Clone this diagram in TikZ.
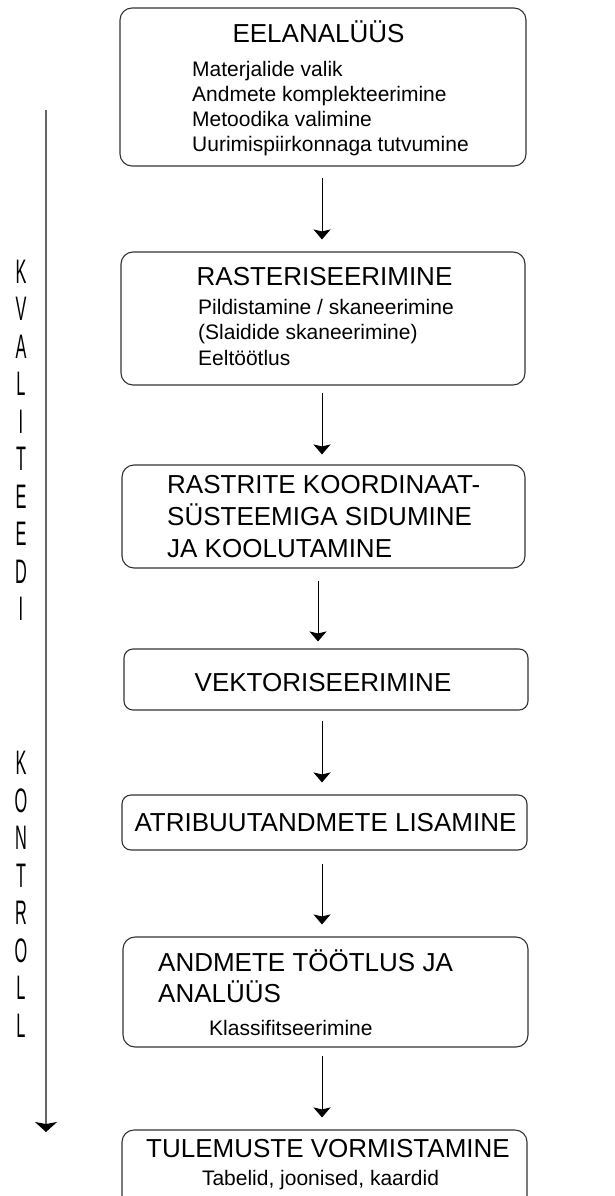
\documentclass[tikz,border=0pt]{standalone}
\usepackage{fontspec}
\setmainfont{Liberation Sans}
\usepackage{graphicx}
\usetikzlibrary{arrows.meta}
\begin{document}
\begin{tikzpicture}[x=1pt,y=-1pt,
  box/.style={draw=black!80, line width=1.1pt, rounded corners=12pt, inner sep=0pt},
  smallbox/.style={box, rounded corners=9pt},
  head/.style={inner sep=0pt, font=\fontsize{26}{32}\selectfont},
  sub/.style={inner sep=0pt, font=\fontsize{21}{25}\selectfont},
  arr/.style={line width=0.9pt, -{Stealth[length=10pt,width=17pt,inset=2pt]}},
  side/.style={inner sep=0pt, anchor=base},
]
\clip (0,0) rectangle (615,1196);
\fill[white] (0,0) rectangle (615,1196);

% boxes
\node[box, minimum width=406pt, minimum height=158pt] (b1) at (323,87) {};
\node[box, minimum width=404pt, minimum height=133pt] (b2) at (323,318.5) {};
\node[box, minimum width=403pt, minimum height=103pt] (b3) at (323.5,516.5) {};
\node[smallbox, minimum width=404pt, minimum height=61pt] (b4) at (326,679.5) {};
\node[smallbox, minimum width=405pt, minimum height=55pt] (b5) at (324.5,822.5) {};
\node[box, minimum width=405pt, minimum height=110pt] (b6) at (325.5,992) {};
\node[box, minimum width=405pt, minimum height=80pt] (b7) at (324.5,1170) {};

% texts
\node[head, anchor=base] (h1) at (318.5,43) {EELANALÜÜS};
\node[sub, anchor=base west] (s1) at (192,77) {\begin{tabular}[t]{@{}l@{}}Materjalide valik\\Andmete komplekteerimine\\Metoodika valimine\\Uurimispiirkonnaga tutvumine\end{tabular}};

\node[head, anchor=base] (h2) at (324.5,285) {RASTERISEERIMINE};
\node[sub, font=\fontsize{21}{25.5}\selectfont, anchor=base west] (s2) at (198,314) {\begin{tabular}[t]{@{}l@{}}Pildistamine / skaneerimine\\(Slaidide skaneerimine)\\Eeltöötlus\end{tabular}};

\node[head, anchor=base west] (h3) at (167,493) {\begin{tabular}[t]{@{}l@{}}RASTRITE KOORDINAAT-\\SÜSTEEMIGA SIDUMINE\\JA KOOLUTAMINE\end{tabular}};

\node[head, anchor=base] (h4) at (323,691) {VEKTORISEERIMINE};

\node[head, anchor=base] (h5) at (325.5,831) {ATRIBUUTANDMETE LISAMINE};

\node[head, font=\fontsize{26}{31}\selectfont, anchor=base west] (h6) at (158,971) {\begin{tabular}[t]{@{}l@{}}ANDMETE TÖÖTLUS JA\\ANALÜÜS\end{tabular}};
\node[sub, anchor=base west] (s6) at (209,1035) {Klassifitseerimine};

\node[head, anchor=base] (h7) at (328,1157) {TULEMUSTE VORMISTAMINE};
\node[sub, anchor=base] (s7) at (320.5,1185) {Tabelid, joonised, kaardid};

% connectors
\coordinate (ax) at (322,0);
\coordinate (ax3) at (318,0);
\draw[arr, shorten <=11pt, shorten >=12pt] (b1.south -| ax) -- (b2.north -| ax);
\draw[arr, shorten <=7pt, shorten >=10pt] (b2.south -| ax) -- (b3.north -| ax);
\draw[arr, shorten <=12pt, shorten >=7pt] (b3.south -| ax3) -- (b4.north -| ax3);
\draw[arr, shorten <=10pt, shorten >=12pt] (b4.south -| ax) -- (b5.north -| ax);
\draw[arr, shorten <=13pt, shorten >=12pt] (b5.south -| ax) -- (b6.north -| ax);
\draw[arr, shorten <=8pt, shorten >=12pt] (b6.south -| ax) -- (b7.north -| ax);

% quality control side arrow
\coordinate (ltop) at (46,110);
\coordinate (lbot) at (46,1132);
\draw[line width=1.5pt, draw=black!60, -{Stealth[length=10pt,width=22pt,inset=2pt,color=black]}] (ltop) -- (lbot);

\node[side] (kv) at (21,283) {\scalebox{0.48}[1]{\fontsize{34}{37.5}\selectfont\begin{tabular}[t]{@{}c@{}}K\\V\\A\\L\\I\\T\\E\\E\\D\\I\end{tabular}}};
\node[side] (ko) at (21,774.5) {\scalebox{0.48}[1]{\fontsize{34}{37.5}\selectfont\begin{tabular}[t]{@{}c@{}}K\\O\\N\\T\\R\\O\\L\\L\end{tabular}}};
\end{tikzpicture}
\end{document}
